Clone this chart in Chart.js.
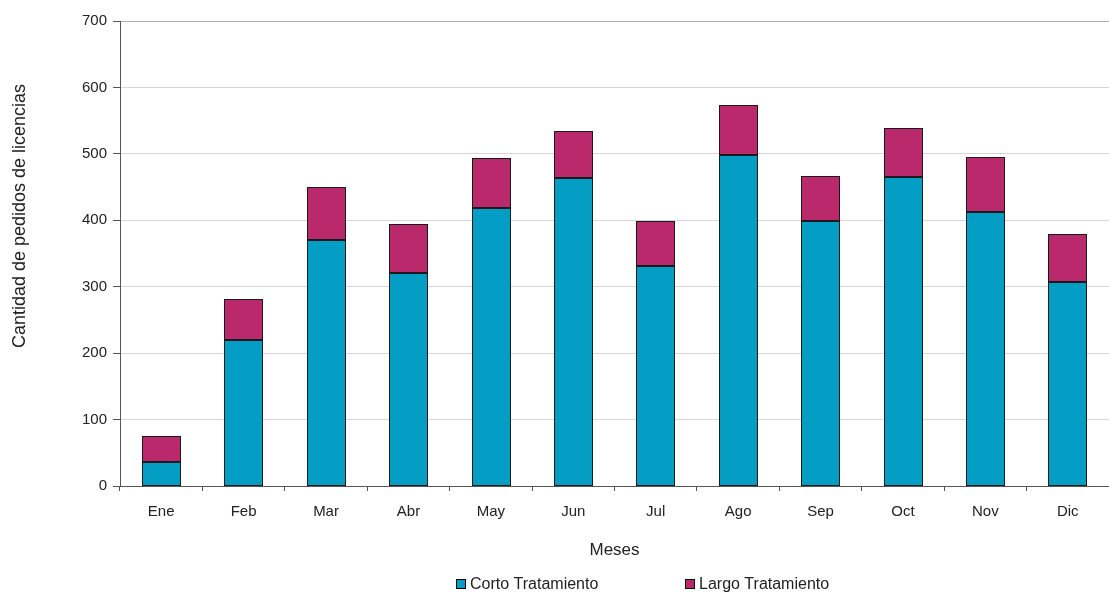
<!DOCTYPE html>
<html lang="es">
<head>
<meta charset="utf-8">
<title>Pedidos de licencias por mes</title>
<script src="https://cdn.jsdelivr.net/npm/chart.js@4.4.1/dist/chart.umd.min.js"></script>
<style>
  html, body { margin: 0; padding: 0; background: #ffffff; }
  #wrap { width: 1109px; height: 592px; position: relative; }
  canvas { display: block; }
</style>
</head>
<body>
<div id="wrap"><canvas id="grafico" width="1109" height="592"></canvas></div>
<script>
// Meses del año
const meses = ['Ene', 'Feb', 'Mar', 'Abr', 'May', 'Jun', 'Jul', 'Ago', 'Sep', 'Oct', 'Nov', 'Dic'];
// Pedidos de licencias de corto tratamiento
const corto = [36, 220, 371, 321, 418, 464, 331, 498, 399, 465, 412, 307];
// Pedidos de licencias de largo tratamiento
const largo = [39, 61, 79, 74, 76, 71, 68, 75, 68, 74, 84, 73];
// Marcas del eje vertical
const marcasY = [0, 100, 200, 300, 400, 500, 600, 700];

const FUENTE = '"Liberation Sans", Arial, Helvetica, sans-serif';
const TEXTO = '#222222';
const EJE = '#555555';

// Ajusta cada barra a píxeles enteros para que el borde quede nítido
const bordesNitidos = {
  id: 'bordesNitidos',
  beforeDatasetsDraw(chart) {
    chart.data.datasets.forEach((ds, i) => {
      chart.getDatasetMeta(i).data.forEach(bar => {
        const w = Math.round(bar.width);
        const left = Math.round(bar.x - bar.width / 2);
        bar.width = w;
        bar.x = left + w / 2;
        bar.y = Math.round(bar.y);
        bar.base = Math.round(bar.base);
      });
    });
  }
};

// Título del eje vertical, dibujado a mano para ubicarlo libremente
const tituloY = {
  id: 'tituloY',
  afterDraw(chart) {
    const ctx = chart.ctx;
    ctx.save();
    ctx.translate(20, 216);
    ctx.rotate(-Math.PI / 2);
    ctx.font = '18px ' + FUENTE;
    ctx.fillStyle = TEXTO;
    ctx.textAlign = 'center';
    ctx.textBaseline = 'middle';
    ctx.fillText('Cantidad de pedidos de licencias', 0, 0);
    ctx.restore();
  }
};

// Leyenda con cuadros de color bajo el título del eje horizontal
const leyenda = {
  id: 'leyenda',
  afterDraw(chart) {
    const ctx = chart.ctx;
    const posiciones = [456, 685];
    const y = 584;
    ctx.save();
    ctx.font = '16px ' + FUENTE;
    ctx.textBaseline = 'middle';
    ctx.textAlign = 'left';
    chart.data.datasets.forEach((ds, i) => {
      const x = posiciones[i];
      ctx.fillStyle = ds.backgroundColor;
      ctx.fillRect(x, y - 5, 10, 10);
      ctx.strokeStyle = '#000000';
      ctx.lineWidth = 1;
      ctx.strokeRect(x + 0.5, y - 4.5, 9, 9);
      ctx.fillStyle = TEXTO;
      ctx.fillText(ds.label, x + 14, y + 1);
    });
    ctx.restore();
  }
};

new Chart(document.getElementById('grafico'), {
  type: 'bar',
  data: {
    labels: meses,
    datasets: [
      {
        label: 'Corto Tratamiento',
        data: corto,
        backgroundColor: '#049dc4',
        borderColor: '#1a1a1a',
        borderWidth: 1,
        borderSkipped: false,
        inflateAmount: 0
      },
      {
        label: 'Largo Tratamiento',
        data: largo,
        backgroundColor: '#ba296b',
        borderColor: '#1a1a1a',
        borderWidth: 1,
        borderSkipped: false,
        inflateAmount: 0
      }
    ]
  },
  options: {
    responsive: false,
    devicePixelRatio: 1,
    animation: false,
    layout: { padding: { top: 21, right: 0, bottom: 0, left: 0 } },
    plugins: {
      legend: { display: false },
      tooltip: { enabled: false }
    },
    datasets: {
      bar: { barPercentage: 0.47, categoryPercentage: 1.0 }
    },
    scales: {
      x: {
        stacked: true,
        grid: {
          offset: true,
          drawOnChartArea: false,
          drawTicks: true,
          tickLength: 5,
          tickColor: EJE
        },
        border: { color: EJE, width: 1 },
        ticks: {
          color: TEXTO,
          font: { family: FUENTE, size: 15 },
          padding: 12,
          maxRotation: 0
        },
        title: {
          display: true,
          text: 'Meses',
          color: TEXTO,
          font: { family: FUENTE, size: 17 },
          padding: { top: 0, bottom: 31 }
        },
        afterFit(scale) { scale.height = 106; }
      },
      y: {
        stacked: true,
        min: 0,
        max: 700,
        afterBuildTicks(scale) {
          scale.ticks = marcasY.map(v => ({ value: v }));
        },
        grid: {
          color: ctx => (ctx.tick && ctx.tick.value === 700) ? '#b0b0b0' : '#d6d6d6',
          lineWidth: 1,
          drawTicks: true,
          tickLength: 7,
          tickColor: EJE
        },
        border: { color: EJE, width: 1 },
        ticks: {
          color: TEXTO,
          font: { family: FUENTE, size: 15 },
          padding: 6
        },
        afterFit(scale) { scale.width = 120; }
      }
    }
  },
  plugins: [bordesNitidos, tituloY, leyenda]
});
</script>
</body>
</html>
